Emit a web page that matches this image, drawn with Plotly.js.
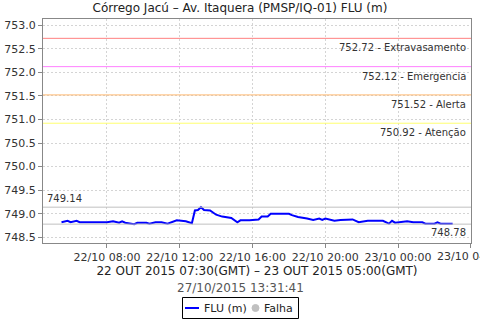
<!DOCTYPE html>
<html><head><meta charset="utf-8">
<script src="https://cdn.plot.ly/plotly-3.0.1.min.js"></script>
<style>html,body{margin:0;padding:0;background:#fff;}#c{width:480px;height:320px;}</style>
</head><body><div id="c"></div>
<script>
const times = ["2015-10-22 05:30","2015-10-22 05:50","2015-10-22 06:00","2015-10-22 06:20","2015-10-22 06:30","2015-10-22 07:00","2015-10-22 07:30","2015-10-22 08:00","2015-10-22 08:20","2015-10-22 08:40","2015-10-22 08:50","2015-10-22 09:00","2015-10-22 09:30","2015-10-22 09:40","2015-10-22 10:10","2015-10-22 10:20","2015-10-22 10:40","2015-10-22 11:00","2015-10-22 11:20","2015-10-22 11:50","2015-10-22 12:20","2015-10-22 12:40","2015-10-22 12:50","2015-10-22 13:00","2015-10-22 13:10","2015-10-22 13:20","2015-10-22 13:40","2015-10-22 14:00","2015-10-22 14:20","2015-10-22 14:50","2015-10-22 15:10","2015-10-22 15:20","2015-10-22 15:50","2015-10-22 16:20","2015-10-22 16:30","2015-10-22 16:50","2015-10-22 17:00","2015-10-22 17:40","2015-10-22 18:00","2015-10-22 18:10","2015-10-22 18:30","2015-10-22 19:00","2015-10-22 19:20","2015-10-22 19:40","2015-10-22 19:50","2015-10-22 20:00","2015-10-22 20:30","2015-10-22 20:50","2015-10-22 21:30","2015-10-22 21:50","2015-10-22 22:20","2015-10-22 23:10","2015-10-22 23:30","2015-10-22 23:40","2015-10-22 23:50","2015-10-23 00:30","2015-10-23 00:50","2015-10-23 01:20","2015-10-23 01:30","2015-10-23 02:00","2015-10-23 02:10","2015-10-23 02:20","2015-10-23 03:00"];
const flu = [748.82,748.85,748.82,748.85,748.82,748.82,748.82,748.82,748.84,748.81,748.84,748.81,748.78,748.81,748.81,748.79,748.82,748.82,748.79,748.86,748.84,748.80,749.07,749.08,749.14,749.08,749.07,748.98,748.94,748.91,748.82,748.86,748.86,748.88,748.94,748.94,749.00,749.01,749.00,748.97,748.93,748.90,748.87,748.90,748.87,748.90,748.85,748.87,748.88,748.82,748.85,748.85,748.79,748.85,748.81,748.84,748.82,748.82,748.79,748.79,748.82,748.79,748.79];
const thresholdValues = [752.72, 752.12, 751.52, 750.92];
const thresholdNames = ["Extravasamento", "Emergencia", "Alerta", "Atenção"];
const thresholdColors = ["#ff8080", "#ff80ff", "#ffb870", "#ffff70"];
const maxValue = 749.14, minValue = 748.78;
const titleText = "Córrego Jacú – Av. Itaquera (PMSP/IQ-01) FLU (m)";
const xTitle = "22 OUT 2015 07:30(GMT) – 23 OUT 2015 05:00(GMT)";
const stamp = "27/10/2015 13:31:41";
const legendNames = ["FLU (m)", "Falha"];
const edgeTick = "2015-10-23 04:00", edgeTickText = "23/10 04:00";

const F = "DejaVu Sans, sans-serif";
// plot area in pixels: x 43..471, y 19..243
const PX = p => (p - 43) / 428, PY = p => (243 - p) / 224;
const shapes = [], annotations = [];
thresholdValues.forEach((v,i)=>{
  shapes.push({type:"line",xref:"paper",x0:0,x1:1,yref:"y",y0:v,y1:v,line:{color:thresholdColors[i],width:1}});
  annotations.push({xref:"paper",x:0.993,yref:"y",y:v,text:v.toFixed(2)+" - "+thresholdNames[i],showarrow:false,xanchor:"right",yanchor:"top",yshift:-2,font:{family:F,size:10,color:"#333"}});
});
shapes.push({type:"line",xref:"paper",x0:0,x1:1,yref:"y",y0:maxValue,y1:maxValue,line:{color:"#c0c0c0",width:1}});
shapes.push({type:"line",xref:"paper",x0:0,x1:1,yref:"y",y0:minValue,y1:minValue,line:{color:"#c0c0c0",width:1}});
annotations.push({xref:"paper",x:0.005,yref:"y",y:maxValue,text:maxValue.toFixed(2),showarrow:false,xanchor:"left",yanchor:"bottom",yshift:1,font:{family:F,size:10,color:"#333"}});
annotations.push({xref:"paper",x:0.993,yref:"y",y:minValue,text:minValue.toFixed(2),showarrow:false,xanchor:"right",yanchor:"top",yshift:-1,font:{family:F,size:10,color:"#333"}});
annotations.push({xref:"paper",yref:"paper",x:PX(240),y:PY(288),text:stamp,showarrow:false,xanchor:"center",yanchor:"middle",font:{family:F,size:12,color:"#555"}});
// clipped tick label at the right edge
annotations.push({xref:"x",x:edgeTick,yref:"paper",y:0,yshift:-5,text:edgeTickText,showarrow:false,xanchor:"center",yanchor:"top",font:{family:F,size:11,color:"#333"}});
// legend box
shapes.push({type:"rect",xref:"paper",yref:"paper",x0:PX(182.5),x1:PX(298.5),y0:PY(318.5),y1:PY(297.5),line:{color:"#000",width:1},fillcolor:"#fff"});
shapes.push({type:"line",xref:"paper",yref:"paper",x0:PX(185),x1:PX(199),y0:PY(308),y1:PY(308),line:{color:"#0000ff",width:2}});
shapes.push({type:"circle",xref:"paper",yref:"paper",x0:PX(252),x1:PX(259),y0:PY(311.5),y1:PY(304.5),line:{color:"#c0c0c0",width:1},fillcolor:"#c0c0c0"});
annotations.push({xref:"paper",yref:"paper",x:PX(202),y:PY(308),text:legendNames[0],showarrow:false,xanchor:"left",yanchor:"middle",font:{family:F,size:11,color:"#222"}});
annotations.push({xref:"paper",yref:"paper",x:PX(262),y:PY(308),text:legendNames[1],showarrow:false,xanchor:"left",yanchor:"middle",font:{family:F,size:11,color:"#222"}});

const data = [
  {x:times,y:flu,type:"scatter",mode:"lines",name:legendNames[0],line:{color:"#0000ff",width:2}}
];
const layout = {
  width:480,height:320,
  margin:{l:43,r:9,t:19,b:77,autoexpand:false},
  paper_bgcolor:"#fff",plot_bgcolor:"#fff",
  title:{text:titleText,x:0.5,xref:"container",xanchor:"center",y:0.975,yanchor:"middle",font:{family:F,size:12,color:"#222"}},
  font:{family:F,size:11,color:"#333"},
  xaxis:{type:"date",range:["2015-10-22 04:29","2015-10-23 04:00:30"],dtick:4*3600*1000,tick0:"2015-10-22 00:00",tickformat:"%d/%m %H:%M",
    showgrid:true,gridcolor:"#d4d4d4",griddash:"2px,2px",showline:true,linecolor:"#888",mirror:true,ticks:"outside",ticklen:4,tickcolor:"#888",
    zeroline:false,automargin:false,tickfont:{family:F,size:11,color:"#333"},
    title:{text:xTitle,standoff:1,font:{family:F,size:12,color:"#222"}}},
  yaxis:{range:[748.38,753.13],dtick:0.5,tick0:748.5,tickformat:".1f",showgrid:true,gridcolor:"#d4d4d4",griddash:"2px,2px",
    showline:true,linecolor:"#888",mirror:true,ticks:"outside",ticklen:4,tickcolor:"#888",zeroline:false,automargin:false,
    tickfont:{family:F,size:11,color:"#333"}},
  showlegend:false,
  shapes:shapes,annotations:annotations
};
Plotly.newPlot("c",data,layout,{displayModeBar:false,staticPlot:true});
</script></body></html>
